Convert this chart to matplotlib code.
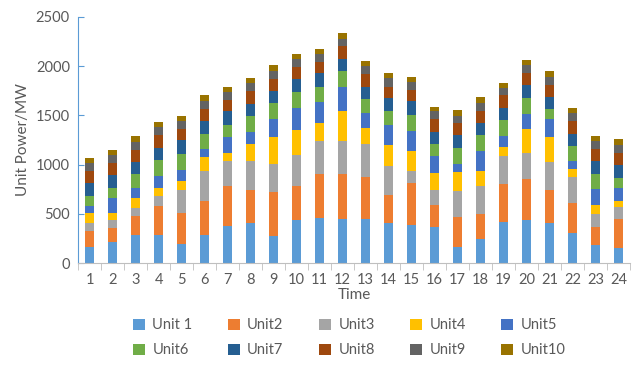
import numpy as np
import matplotlib.pyplot as plt

plt.rcParams['font.family'] = ['Lato', 'DejaVu Sans']

#time periods
hours = np.arange(1, 25)

#unit outputs (MW)
unit1 = [163, 217, 285, 285, 190, 281, 373, 403, 278, 437, 461, 447,
         447, 403, 390, 369, 159, 247, 417, 441, 403, 302, 186, 156]
unit2 = [159, 139, 196, 298, 315, 353, 407, 343, 447, 346, 444, 458,
         424, 289, 424, 217, 312, 251, 386, 410, 343, 308, 177, 295]
unit3 = [85, 78, 75, 98, 237, 305, 261, 295, 282, 315, 339, 339,
         343, 291, 125, 160, 265, 282, 285, 271, 285, 261, 132, 122]
unit4 = [98, 78, 102, 82, 95, 136, 78, 169, 271, 251, 176, 298,
         155, 217, 203, 169, 193, 159, 92, 241, 247, 88, 91, 58]
unit5 = [78, 149, 105, 125, 112, 81, 162, 126, 183, 227, 214, 251,
         160, 207, 204, 170, 78, 203, 112, 156, 183, 82, 170, 135]
unit6 = [98, 102, 139, 159, 156, 159, 126, 162, 163, 160, 159, 156,
         135, 135, 162, 125, 159, 160, 159, 162, 102, 145, 146, 102]
unit7 = [136, 129, 125, 126, 142, 126, 135, 119, 125, 135, 136, 126,
         129, 136, 136, 126, 136, 125, 125, 126, 125, 129, 139, 125]
unit8 = [115, 128, 126, 129, 112, 125, 116, 129, 122, 119, 118, 125,
         126, 115, 115, 128, 118, 122, 129, 122, 122, 126, 115, 129]
unit9 = [82, 78, 78, 78, 82, 78, 78, 81, 82, 78, 75, 78,
         78, 88, 78, 78, 78, 82, 78, 81, 85, 81, 81, 81]
unit10 = [57, 55, 57, 57, 54, 61, 57, 54, 54, 54, 54, 54,
          54, 48, 58, 48, 55, 57, 51, 54, 54, 54, 55, 55]

units = [unit1, unit2, unit3, unit4, unit5, unit6, unit7, unit8, unit9, unit10]
names = ['Unit 1', 'Unit2', 'Unit3', 'Unit4', 'Unit5',
         'Unit6', 'Unit7', 'Unit8', 'Unit9', 'Unit10']
colors = ['#5B9BD5', '#ED7D31', '#A5A5A5', '#FFC000', '#4472C4',
          '#70AD47', '#255E91', '#9E480E', '#636363', '#997300']

fig = plt.figure(figsize=(6.41, 3.68), dpi=100)
ax = fig.add_axes([0.122, 0.285, 0.861, 0.669])

bottom = np.zeros(len(hours))
handles = []
for vals, name, c in zip(units, names, colors):
    b = ax.bar(hours, vals, width=0.38, bottom=bottom, color=c, label=name)
    handles.append(b)
    bottom += np.array(vals)

ax.set_xlim(0.5, 24.5)
ax.set_ylim(0, 2500)
ax.set_yticks(np.arange(0, 2501, 500))
ax.set_xticks(hours)
ax.set_xticks(np.arange(0.5, 25, 1), minor=True)

for s in ['top', 'right']:
    ax.spines[s].set_visible(False)
ax.spines['left'].set_color('#5B9BD5')
ax.spines['bottom'].set_color('#BFBFBF')

ax.tick_params(axis='y', direction='in', color='#5B9BD5', length=4,
               labelsize=10.5, labelcolor='#595959', pad=6)
ax.tick_params(axis='x', which='major', length=0, labelsize=10.5,
               labelcolor='#595959', pad=7)
ax.tick_params(axis='x', which='minor', length=5, color='#BFBFBF')

ax.set_xlabel('Time', fontsize=11, color='#595959', labelpad=1)
ax.set_ylabel('Unit Power/MW', fontsize=11, color='#595959', labelpad=4)

#row-major legend order
order = [0, 5, 1, 6, 2, 7, 3, 8, 4, 9]
fig.legend([handles[i] for i in order], [names[i] for i in order],
           loc='center', bbox_to_anchor=(0.545, 0.082), ncol=5, frameon=False,
           fontsize=10.5, labelcolor='#595959', handlelength=0.8,
           handleheight=0.8, handletextpad=0.5, columnspacing=2.45,
           labelspacing=0.75)

plt.savefig('out.png', dpi=100)
